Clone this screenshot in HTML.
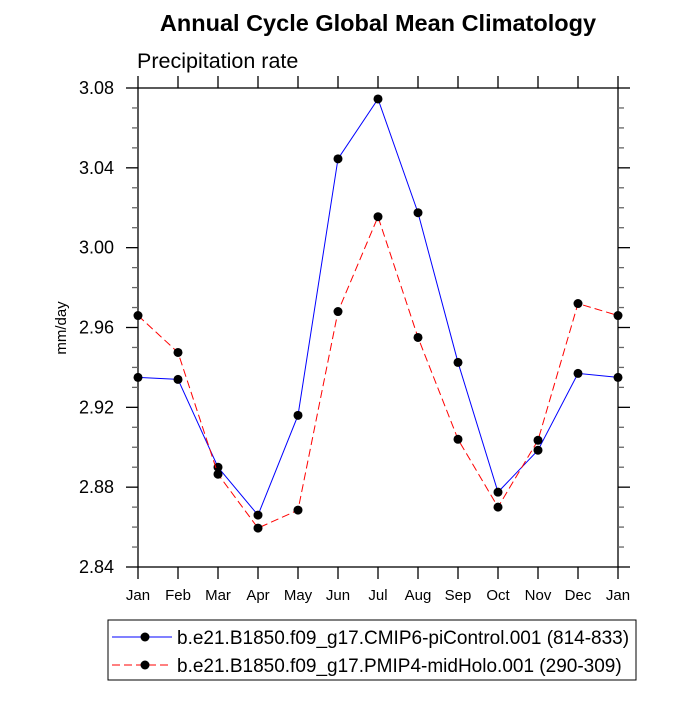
<!DOCTYPE html>
<html><head><meta charset="utf-8"><style>
body{margin:0;background:#fff;}
svg text{font-family:"Liberation Sans",Arial,sans-serif;}
</style></head><body>
<svg id="chart" width="700" height="700" xmlns="http://www.w3.org/2000/svg">
<text x="378" y="31" font-size="23.5" font-weight="bold" text-anchor="middle">Annual Cycle Global Mean Climatology</text>
<text x="137" y="68" font-size="21.5">Precipitation rate</text>
<text transform="translate(66,328) rotate(-90)" font-size="15" text-anchor="middle">mm/day</text>
<g id="axes"></g>
<g id="series"></g>
<g id="legend">
<rect x="108" y="620" width="528" height="60" fill="#fff" stroke="#000" stroke-width="1"/>
<line x1="112" y1="637" x2="172" y2="637" stroke="#0000ff" stroke-width="1"/>
<circle cx="145" cy="637" r="4.5" fill="#000"/>
<text x="177" y="644" font-size="19">b.e21.B1850.f09_g17.CMIP6-piControl.001 (814-833)</text>
<line x1="112" y1="665" x2="172" y2="665" stroke="#ff0000" stroke-width="1" stroke-dasharray="8,4"/>
<circle cx="145" cy="665" r="4.5" fill="#000"/>
<text x="177" y="672" font-size="19">b.e21.B1850.f09_g17.PMIP4-midHolo.001 (290-309)</text>
</g>
</svg>
<script>
const months=["Jan","Feb","Mar","Apr","May","Jun","Jul","Aug","Sep","Oct","Nov","Dec","Jan"];
const piControl=[2.935,2.934,2.890,2.866,2.916,3.0445,3.0745,3.0175,2.9425,2.8775,2.8985,2.937,2.935];
const midHolo=[2.966,2.9475,2.8865,2.8595,2.8685,2.968,3.0155,2.955,2.904,2.870,2.9035,2.972,2.966];
const yTicks=[2.84,2.88,2.92,2.96,3.00,3.04,3.08];
const yMin=2.84,yMax=3.08;
const L=138,R=618,T=88,B=567;
const NS="http://www.w3.org/2000/svg";
function xs(i){return L+(R-L)*i/(months.length-1);}
function ys(v){return B-(B-T)*(v-yMin)/(yMax-yMin);}
function mk(tag,attrs,parent){const e=document.createElementNS(NS,tag);for(const k in attrs)e.setAttribute(k,attrs[k]);parent.appendChild(e);return e;}
const axes=document.getElementById('axes');
let fr=mk('rect',{x:L,y:T,width:R-L,height:B-T,fill:'none',stroke:'#000','stroke-width':1.3},axes);


months.forEach((m,i)=>{
  const x=xs(i);
  let t=mk('line',{x1:x,y1:B,x2:x,y2:B+12,stroke:'#000','stroke-width':1.3},axes);
  
  
  let t2=mk('line',{x1:x,y1:T,x2:x,y2:T-12,stroke:'#000','stroke-width':1.3},axes);
  
  
  let lb=mk('text',{x:x,y:B+33,'font-size':15,'text-anchor':'middle'},axes);
  lb.textContent=m;
  
  
});
for(let v=yMin;v<=yMax+1e-9;v+=0.01){
  const y=ys(v);const major=Math.abs(Math.round(v*100)%4)===0;const len=major?12:6;
  const col=major?'#000':'#666';
  let a=mk('line',{x1:L,y1:y,x2:L-len,y2:y,stroke:col,'stroke-width':1.3},axes);
  
  
  let b=mk('line',{x1:R,y1:y,x2:R+len,y2:y,stroke:col,'stroke-width':1.3},axes);
  
  
}
yTicks.forEach(v=>{
  let lb=mk('text',{x:114,y:ys(v)+6,'font-size':18,'text-anchor':'end'},axes);
  lb.textContent=v.toFixed(2);
  
  
});
const sg=document.getElementById('series');
function draw(data,color,dash,name){
  const pts=data.map((v,i)=>xs(i)+','+ys(v)).join(' ');
  let pl=mk('polyline',{points:pts,fill:'none',stroke:color,'stroke-width':1},sg);
  if(dash)pl.setAttribute('stroke-dasharray',dash);
  
  
  data.forEach((v,i)=>{
    let c=mk('circle',{cx:xs(i),cy:ys(v),r:4.5,fill:'#000'},sg);
    
    
  });
}
draw(piControl,'#0000ff',null,'picontrol');
draw(midHolo,'#ff0000','8,4','midholo');
</script>
</body></html>
